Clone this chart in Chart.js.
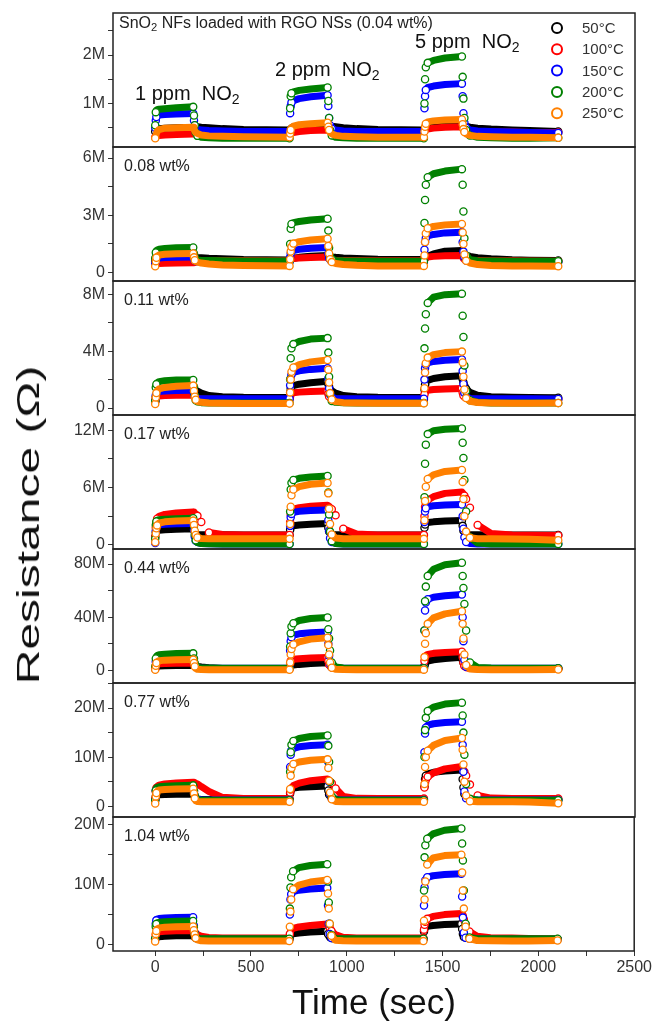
<!DOCTYPE html>
<html>
<head>
<meta charset="utf-8">
<script src="https://cdn.jsdelivr.net/npm/chart.js@4.4.1/dist/chart.umd.min.js"></script>
<style>
  body { margin: 0; background: #fff; }
  #page { position: relative; width: 654px; height: 1021px; overflow: hidden; font-family: 'Liberation Sans', Arial, sans-serif; }
  #page canvas { position: absolute; left: 0; }
  .txt { position: absolute; white-space: nowrap; color: #111; z-index: 5; }
  .txt sub { font-size: 0.7em; vertical-align: -0.3em; line-height: 0; }
</style>
</head>
<body>
<div id="page">
  <div class="txt" style="left:119px;top:15px;font-size:16px;line-height:16px;color:#222">SnO<sub>2</sub> NFs loaded with RGO NSs (0.04 wt%)</div>
  <div class="txt" style="left:135px;top:83px;font-size:20px;line-height:20px">1 ppm&nbsp; NO<sub>2</sub></div>
  <div class="txt" style="left:275px;top:59px;font-size:20px;line-height:20px">2 ppm&nbsp; NO<sub>2</sub></div>
  <div class="txt" style="left:415px;top:31px;font-size:20px;line-height:20px">5 ppm&nbsp; NO<sub>2</sub></div>
  <div class="txt" style="left:28px;top:525px;font-size:32px;line-height:32px;transform:translate(-50%,-50%) rotate(-90deg) scaleX(1.5)">Resistance (Ω)</div>
  <div class="txt" style="left:374px;top:984px;font-size:35px;line-height:35px;transform:translateX(-50%)">Time (sec)</div>
</div>
<script>
// time axis (s) shared by every series
const T = [0, 3, 6, 10, 20, 50, 110, 198, 202, 206, 211, 220, 240, 280, 350, 460,
  700, 703, 706, 710, 720, 750, 810, 898, 902, 906, 911, 920, 940, 980, 1050, 1160,
  1400, 1403, 1406, 1410, 1420, 1450, 1510, 1598, 1602, 1606, 1611, 1620, 1640, 1680, 1750, 1860,
  1950, 2100];

const TEMPS = ['50°C', '100°C', '150°C', '200°C', '250°C'];
const COLORS = ['#000000', '#ff0000', '#0000ff', '#008000', '#ff8000'];
const PANEL_LABELS = [null, '0.08 wt%', '0.11 wt%', '0.17 wt%', '0.44 wt%', '0.77 wt%', '1.04 wt%'];

// y ranges and major tick steps, in MOhm
const Y_MIN = [0.1, -0.44, -0.49, -0.42, -9.5, -2.2, -1.04];
const Y_MAX = [2.87, 6.58, 8.94, 13.6, 91.3, 25.1, 21.2];
const Y_MAJOR = [1, 3, 4, 6, 40, 10, 10];
const X_MIN = -220, X_MAX = 2500;
const X_TICKS = [0, 250, 500, 750, 1000, 1250, 1500, 1750, 2000, 2250, 2500];
const X_LABELED = [0, 500, 1000, 1500, 2000, 2500];

// resistance (MOhm), one value per entry of T
const r004_50 = [0.42,0.44,0.46,0.47,0.48,0.49,0.50,0.51,0.51,0.52,0.52,0.52,0.51,0.50,0.48,0.46,
  0.45,0.47,0.49,0.50,0.52,0.53,0.54,0.55,0.55,0.55,0.54,0.53,0.52,0.50,0.48,0.46,
  0.45,0.48,0.51,0.53,0.55,0.57,0.59,0.60,0.59,0.57,0.55,0.53,0.51,0.49,0.47,0.45, 0.44,0.42];
const r004_100 = [0.30,0.31,0.32,0.33,0.34,0.35,0.36,0.37,0.38,0.39,0.40,0.41,0.42,0.42,0.42,0.42,
  0.41,0.38,0.38,0.39,0.40,0.42,0.44,0.45,0.44,0.43,0.42,0.42,0.42,0.42,0.42,0.42,
  0.41,0.43,0.45,0.46,0.47,0.49,0.51,0.52,0.49,0.46,0.44,0.43,0.42,0.42,0.41,0.41, 0.40,0.40];
const r004_150 = [0.50,0.65,0.72,0.75,0.76,0.77,0.78,0.79,0.65,0.55,0.50,0.47,0.45,0.44,0.43,0.42,
  0.42,0.80,0.95,1.02,1.06,1.10,1.14,1.17,0.95,0.70,0.55,0.48,0.45,0.43,0.42,0.42,
  0.42,0.90,1.15,1.28,1.33,1.36,1.39,1.41,1.15,0.80,0.60,0.50,0.45,0.43,0.42,0.41, 0.40,0.39];
const r004_200 = [0.55,0.82,0.86,0.87,0.88,0.89,0.91,0.93,0.75,0.55,0.40,0.33,0.30,0.29,0.28,0.28,
  0.28,0.90,1.15,1.21,1.24,1.27,1.30,1.33,1.05,0.70,0.45,0.34,0.30,0.29,0.28,0.28,
  0.28,1.00,1.50,1.75,1.84,1.89,1.94,1.97,1.55,1.10,0.70,0.45,0.34,0.30,0.29,0.28, 0.28,0.29];
const r004_250 = [0.28,0.33,0.38,0.42,0.46,0.49,0.50,0.51,0.47,0.43,0.40,0.38,0.35,0.33,0.32,0.31,
  0.30,0.38,0.45,0.50,0.53,0.56,0.58,0.60,0.52,0.45,0.40,0.37,0.34,0.32,0.31,0.30,
  0.30,0.42,0.52,0.58,0.62,0.64,0.66,0.67,0.57,0.47,0.41,0.37,0.34,0.32,0.31,0.30, 0.30,0.29];

const r008_50 = [0.60,0.65,0.70,0.72,0.74,0.76,0.78,0.80,0.80,0.80,0.80,0.79,0.78,0.75,0.72,0.68,
  0.66,0.68,0.70,0.72,0.75,0.80,0.86,0.90,0.88,0.86,0.84,0.82,0.80,0.77,0.74,0.70,
  0.68,0.72,0.76,0.80,0.86,0.98,1.12,1.16,1.10,1.04,0.98,0.92,0.85,0.78,0.72,0.67, 0.65,0.63];
const r008_100 = [0.40,0.44,0.46,0.47,0.48,0.49,0.50,0.51,0.55,0.58,0.60,0.62,0.63,0.64,0.64,0.63,
  0.62,0.66,0.70,0.72,0.74,0.76,0.79,0.82,0.76,0.70,0.66,0.64,0.63,0.63,0.63,0.62,
  0.62,0.70,0.76,0.79,0.82,0.85,0.88,0.90,0.80,0.72,0.67,0.65,0.64,0.63,0.62,0.62, 0.61,0.60];
const r008_150 = [0.45,0.65,0.72,0.75,0.77,0.79,0.80,0.82,0.68,0.60,0.57,0.56,0.55,0.55,0.55,0.55,
  0.55,0.80,1.00,1.10,1.16,1.22,1.28,1.32,1.00,0.75,0.62,0.58,0.56,0.55,0.55,0.55,
  0.55,1.20,1.60,1.80,1.92,2.00,2.08,2.12,1.60,1.10,0.80,0.64,0.58,0.56,0.55,0.55, 0.55,0.55];
const r008_200 = [0.75,1.05,1.15,1.18,1.22,1.26,1.30,1.32,1.00,0.80,0.70,0.66,0.64,0.63,0.62,0.61,
  0.61,1.50,2.30,2.55,2.62,2.68,2.76,2.82,2.20,1.30,0.85,0.70,0.64,0.62,0.61,0.60,
  0.60,2.60,3.80,4.60,5.00,5.18,5.32,5.42,4.60,3.20,1.80,0.90,0.68,0.62,0.61,0.60, 0.60,0.60];
const r008_250 = [0.33,0.60,0.78,0.86,0.92,0.96,0.99,1.00,0.80,0.65,0.58,0.55,0.50,0.45,0.40,0.37,
  0.35,0.70,1.10,1.35,1.52,1.62,1.71,1.77,1.40,1.00,0.70,0.55,0.48,0.42,0.38,0.35,
  0.35,0.90,1.60,2.05,2.32,2.42,2.50,2.55,2.10,1.50,0.95,0.62,0.50,0.42,0.37,0.35, 0.34,0.33];

const r011_50 = [0.50,0.80,0.95,1.02,1.08,1.15,1.22,1.28,1.30,1.28,1.25,1.20,1.05,0.88,0.80,0.76,
  0.75,1.10,1.35,1.48,1.58,1.68,1.78,1.88,1.70,1.50,1.35,1.22,1.05,0.88,0.80,0.76,
  0.75,1.30,1.65,1.82,1.95,2.08,2.20,2.28,2.05,1.80,1.55,1.35,1.10,0.90,0.80,0.76, 0.74,0.72];
const r011_100 = [0.45,0.70,0.78,0.82,0.85,0.88,0.90,0.92,0.80,0.72,0.68,0.65,0.62,0.61,0.60,0.60,
  0.60,0.85,0.98,1.04,1.08,1.12,1.16,1.20,1.00,0.82,0.72,0.66,0.62,0.61,0.60,0.60,
  0.60,0.95,1.12,1.20,1.25,1.30,1.34,1.38,1.10,0.88,0.74,0.67,0.63,0.61,0.60,0.60, 0.60,0.60];
const r011_150 = [0.50,0.90,1.05,1.12,1.17,1.20,1.23,1.25,1.00,0.82,0.72,0.68,0.66,0.65,0.65,0.65,
  0.65,1.60,2.10,2.35,2.50,2.62,2.72,2.80,2.10,1.40,0.95,0.75,0.68,0.66,0.65,0.65,
  0.65,2.00,2.80,3.05,3.18,3.28,3.36,3.42,2.60,1.70,1.05,0.78,0.68,0.66,0.65,0.65, 0.65,0.64];
const r011_200 = [0.50,1.45,1.68,1.78,1.86,1.92,1.97,1.98,1.50,0.90,0.55,0.42,0.38,0.36,0.35,0.35,
  0.35,2.00,3.50,4.20,4.50,4.68,4.85,4.92,3.90,2.20,1.00,0.50,0.40,0.37,0.36,0.35,
  0.35,4.20,5.60,6.60,7.40,7.80,7.98,8.05,6.50,5.00,3.00,1.20,0.55,0.40,0.36,0.35, 0.35,0.35];
const r011_250 = [0.28,0.75,1.05,1.22,1.35,1.45,1.53,1.58,1.20,0.80,0.58,0.46,0.40,0.36,0.34,0.32,
  0.32,1.10,2.00,2.55,2.85,3.05,3.25,3.38,2.70,1.80,1.05,0.60,0.45,0.38,0.35,0.33,
  0.33,1.40,2.50,3.15,3.55,3.75,3.90,3.97,3.20,2.20,1.30,0.70,0.48,0.39,0.36,0.34, 0.34,0.35];

const r017_50 = [0.90,1.30,1.45,1.50,1.55,1.60,1.65,1.70,1.45,1.25,1.15,1.10,1.08,1.07,1.06,1.05,
  1.05,1.60,1.85,1.95,2.02,2.10,2.18,2.25,1.80,1.40,1.20,1.12,1.08,1.06,1.05,1.05,
  1.05,1.80,2.15,2.28,2.35,2.42,2.50,2.56,2.00,1.50,1.25,1.13,1.08,1.06,1.05,1.05, 1.04,1.04];
const r017_100 = [0.80,1.80,2.40,2.75,3.00,3.20,3.35,3.45,3.40,3.35,3.25,3.05,2.40,1.30,1.10,1.05,
  1.05,2.40,3.20,3.55,3.75,3.90,4.05,4.15,4.10,4.05,3.95,3.75,3.10,1.70,1.15,1.05,
  1.05,3.00,4.00,4.40,4.70,5.05,5.40,5.55,5.45,5.35,5.15,4.80,3.90,2.10,1.20,1.05, 1.02,1.00];
const r017_150 = [0.20,1.50,1.90,2.05,2.12,2.18,2.22,2.25,1.60,0.90,0.45,0.25,0.15,0.12,0.11,0.10,
  0.10,2.00,2.90,3.25,3.42,3.52,3.60,3.66,2.60,1.50,0.70,0.30,0.15,0.11,0.10,0.10,
  0.10,2.40,3.50,3.85,4.00,4.10,4.18,4.24,3.00,1.70,0.80,0.32,0.15,0.11,0.10,0.10, 0.10,0.10];
const r017_200 = [0.65,2.10,2.45,2.58,2.65,2.70,2.75,2.80,2.00,1.10,0.50,0.25,0.15,0.12,0.11,0.10,
  0.10,3.50,5.80,6.50,6.80,6.98,7.12,7.22,5.50,3.20,1.40,0.40,0.15,0.11,0.10,0.10,
  0.10,5.00,8.50,10.50,11.60,11.95,12.10,12.20,10.70,9.10,6.80,3.50,0.80,0.20,0.11,0.10, 0.10,0.10];
const r017_250 = [0.28,1.20,1.75,2.05,2.30,2.42,2.50,2.55,2.10,1.50,1.05,0.78,0.68,0.65,0.64,0.64,
  0.64,2.20,4.00,5.20,5.80,6.10,6.35,6.48,5.40,3.80,2.20,1.10,0.72,0.65,0.64,0.64,
  0.64,2.60,4.60,6.10,6.90,7.35,7.70,7.85,6.60,4.80,3.00,1.40,0.75,0.66,0.64,0.63, 0.60,0.50];

const r044_50 = [1.2,2.5,2.9,3.1,3.3,3.5,3.7,3.9,3.8,3.6,3.3,3.0,2.5,2.0,1.5,1.2,
  1.2,2.5,3.2,3.6,4.0,4.5,5.2,5.8,5.0,4.0,3.2,2.5,1.9,1.5,1.2,1.2,
  1.2,3.5,5.0,6.0,7.0,8.0,9.0,9.8,8.0,6.0,4.0,2.8,2.0,1.5,1.2,1.2, 1.2,1.2];
const r044_100 = [1.2,3.5,4.2,4.6,4.9,5.1,5.3,5.5,4.0,2.8,2.0,1.6,1.4,1.3,1.2,1.2,
  1.2,5.0,7.0,7.8,8.3,8.8,9.3,9.7,7.0,4.5,2.8,1.8,1.4,1.3,1.2,1.2,
  1.2,7.0,10.0,11.2,12.0,12.8,13.5,14.0,10.0,6.0,3.2,1.9,1.4,1.3,1.2,1.2, 1.2,1.2];
const r044_150 = [1.6,6.5,7.8,8.4,8.8,9.1,9.4,9.6,6.5,4.0,2.4,1.8,1.6,1.6,1.6,1.6,
  1.6,15.0,22.0,25.0,26.5,27.5,28.3,28.8,20.0,11.0,5.0,2.3,1.7,1.6,1.6,1.6,
  1.6,30.0,45.0,51.0,53.5,55.0,56.2,57.0,40.0,22.0,8.0,2.8,1.7,1.6,1.6,1.6, 1.6,1.6];
const r044_200 = [3.0,9.0,10.5,11.2,11.8,12.2,12.6,12.8,9.0,5.5,3.2,2.2,1.8,1.7,1.6,1.6,
  1.6,18.0,28.0,33.0,35.5,37.5,39.0,39.8,31.0,24.0,15.0,6.0,2.5,1.8,1.6,1.6,
  1.6,30.0,52.0,63.0,71.0,76.0,79.5,81.0,71.0,62.0,50.0,30.0,6.0,2.2,1.7,1.6, 1.6,1.6];
const r044_250 = [0.5,3.5,5.5,6.5,7.3,7.7,7.9,8.1,5.5,3.0,1.5,0.8,0.6,0.55,0.5,0.5,
  0.5,6.0,12.0,16.0,19.5,21.5,23.5,24.5,19.0,12.0,6.0,2.0,0.8,0.6,0.55,0.55,
  0.55,10.0,20.0,28.0,35.0,39.5,42.5,44.5,35.0,24.0,12.0,4.0,1.0,0.6,0.55,0.55, 0.55,0.6];

const r077_50 = [1.35,2.00,2.15,2.25,2.32,2.38,2.43,2.48,2.10,1.80,1.55,1.45,1.38,1.35,1.35,1.35,
  1.35,2.60,3.20,3.50,3.70,3.85,3.98,4.10,3.20,2.40,1.90,1.60,1.45,1.38,1.35,1.35,
  1.35,4.00,5.50,6.20,6.60,6.90,7.15,7.35,5.50,3.80,2.50,1.75,1.45,1.38,1.35,1.35, 1.35,1.35];
const r077_100 = [1.50,3.00,3.70,4.00,4.30,4.55,4.75,4.90,4.85,4.80,4.70,4.55,4.00,3.00,1.80,1.55,
  1.55,2.80,3.40,3.80,4.20,4.70,5.20,5.55,5.45,5.30,5.10,4.70,3.60,2.00,1.60,1.55,
  1.55,3.80,4.80,5.40,6.00,6.80,7.60,8.10,7.80,7.50,7.00,6.20,4.40,2.20,1.65,1.55, 1.55,1.55];
const r077_150 = [1.25,3.20,3.60,3.75,3.85,3.92,3.98,4.02,3.00,2.20,1.65,1.40,1.30,1.25,1.25,1.25,
  1.25,8.00,10.50,11.40,11.80,12.10,12.35,12.50,9.00,5.00,2.50,1.50,1.30,1.25,1.25,1.25,
  1.25,11.00,14.80,16.00,16.50,16.80,17.05,17.20,12.50,7.00,3.00,1.60,1.32,1.25,1.25,1.25, 1.25,1.25];
const r077_200 = [1.20,3.20,3.70,3.85,3.95,4.05,4.15,4.25,3.20,2.20,1.55,1.28,1.22,1.20,1.20,1.20,
  1.20,7.00,11.00,12.50,13.30,13.80,14.20,14.40,12.30,9.00,5.00,2.00,1.30,1.22,1.20,1.20,
  1.20,10.00,15.50,18.00,19.40,20.20,20.80,21.10,18.50,15.00,10.50,4.50,1.50,1.25,1.20,1.20, 1.20,1.20];
const r077_250 = [0.55,2.00,2.70,3.05,3.28,3.40,3.50,3.55,2.60,1.60,1.10,0.95,0.90,0.90,0.90,0.90,
  0.90,3.50,6.20,7.80,8.60,9.00,9.35,9.55,7.80,5.20,2.80,1.40,0.95,0.90,0.90,0.90,
  0.90,4.50,8.00,10.00,11.30,12.40,13.40,13.90,11.50,8.50,5.00,2.20,1.00,0.92,0.90,0.90, 0.88,0.60];

const r104_50 = [0.90,1.10,1.20,1.27,1.33,1.40,1.48,1.55,1.30,1.10,1.00,0.95,0.92,0.90,0.90,0.90,
  0.90,1.40,1.60,1.72,1.82,1.95,2.10,2.25,1.80,1.40,1.15,1.00,0.93,0.90,0.90,0.90,
  0.90,2.20,2.70,2.90,3.05,3.20,3.35,3.45,2.60,1.80,1.30,1.05,0.95,0.90,0.90,0.90, 0.90,0.90];
const r104_100 = [1.00,1.60,1.90,2.05,2.15,2.25,2.32,2.38,2.30,2.20,2.00,1.70,1.40,1.20,1.12,1.10,
  1.10,1.80,2.20,2.45,2.70,2.95,3.20,3.45,3.30,3.10,2.80,2.30,1.70,1.25,1.12,1.10,
  1.10,2.50,3.30,3.80,4.30,4.70,5.00,5.20,5.00,4.70,4.20,3.40,2.20,1.40,1.15,1.10, 1.05,0.95];
const r104_150 = [0.90,3.50,4.05,4.25,4.35,4.45,4.52,4.58,3.20,2.00,1.30,1.00,0.92,0.90,0.90,0.90,
  0.90,5.00,7.50,8.40,8.80,9.05,9.25,9.40,6.50,3.50,1.80,1.10,0.92,0.90,0.90,0.90,
  0.90,6.50,9.50,10.70,11.20,11.45,11.65,11.80,8.00,4.50,2.00,1.15,0.93,0.90,0.90,0.90, 0.90,0.90];
const r104_200 = [1.00,3.00,3.45,3.62,3.72,3.80,3.88,3.95,2.90,1.90,1.30,1.05,1.00,1.00,1.00,1.00,
  1.00,6.00,9.50,11.20,12.20,12.80,13.15,13.35,10.50,7.00,3.50,1.60,1.05,1.00,1.00,1.00,
  1.00,9.00,14.50,16.50,17.60,18.40,19.00,19.30,16.80,14.00,9.00,3.50,1.20,1.00,1.00,1.00, 1.00,1.00];
const r104_250 = [0.55,1.80,2.30,2.60,2.80,2.90,2.98,3.02,2.40,1.70,1.10,0.80,0.65,0.60,0.60,0.60,
  0.60,3.00,5.50,7.50,9.20,9.90,10.40,10.75,8.50,6.00,3.50,1.50,0.75,0.65,0.62,0.60,
  0.60,4.00,7.50,10.50,13.30,14.40,14.80,14.95,12.00,9.00,6.00,3.00,1.00,0.70,0.65,0.62, 0.62,0.70];

const PANELS = [
  [r004_50, r004_100, r004_150, r004_200, r004_250],
  [r008_50, r008_100, r008_150, r008_200, r008_250],
  [r011_50, r011_100, r011_150, r011_200, r011_250],
  [r017_50, r017_100, r017_150, r017_200, r017_250],
  [r044_50, r044_100, r044_150, r044_200, r044_250],
  [r077_50, r077_100, r077_150, r077_200, r077_250],
  [r104_50, r104_100, r104_150, r104_200, r104_250],
];

// page layout
const PLOT_LEFT = 113, PLOT_RIGHT = 635, PAGE_W = 654;
const PANEL_TOP = [13, 147, 281, 415, 549, 683, 817];
const PANEL_H = 134;
const PAD = 14, YW = 60, XAXH = 40;
const FONT = "'Liberation Sans', Arial, sans-serif";

Chart.defaults.font.family = FONT;
Chart.defaults.color = '#333';

const isMult = (v, m) => Math.abs(v / m - Math.round(v / m)) < 1e-6;

// major + minor (half step) tick values inside [lo, hi]
function yTickValues(i) {
  const step = Y_MAJOR[i] / 2, out = [];
  for (let n = Math.ceil(Y_MIN[i] / step); n * step <= Y_MAX[i]; n++) out.push(n * step);
  return out;
}

// which segments are too steep to draw as a band, and which points show as open circles
function steepFlags(vals, i) {
  const pxV = PANEL_H / (Y_MAX[i] - Y_MIN[i]);
  const pxT = (PLOT_RIGHT - PLOT_LEFT) / (X_MAX - X_MIN);
  const seg = [];
  for (let j = 0; j < vals.length - 1; j++) {
    const dy = Math.abs(vals[j + 1] - vals[j]) * pxV;
    const dx = (T[j + 1] - T[j]) * pxT;
    seg.push(dy > Math.max(2.5, 1.3 * dx));
  }
  const dot = vals.map((v, j) => j === 0 || j === vals.length - 1 || seg[j - 1] || seg[j]);
  return { seg, dot };
}

const framePlugin = {
  id: 'frame',
  afterDraw(chart, args, opts) {
    const { ctx, chartArea: a } = chart;
    ctx.save();
    ctx.strokeStyle = '#222';
    ctx.lineWidth = 1.5;
    ctx.strokeRect(a.left, a.top, a.right - a.left, a.bottom - a.top);
    if (opts.label) {
      ctx.font = `16px ${FONT}`;
      ctx.fillStyle = '#222';
      ctx.fillText(opts.label, a.left + 11, a.top + 23.5);
    }
    if (opts.legend) {
      ctx.font = `15px ${FONT}`;
      TEMPS.forEach((t, k) => {
        const y = a.top + 20 + k * 21.3;
        ctx.beginPath();
        ctx.arc(557, y - 5, 5, 0, Math.PI * 2);
        ctx.fillStyle = '#fff';
        ctx.fill();
        ctx.strokeStyle = COLORS[k];
        ctx.lineWidth = 2;
        ctx.stroke();
        ctx.fillStyle = '#333';
        ctx.fillText(t, 582, y);
      });
    }
    ctx.restore();
  }
};

const page = document.getElementById('page');

PANELS.forEach((series, i) => {
  const last = i === PANELS.length - 1;
  const canvas = document.createElement('canvas');
  canvas.width = PAGE_W;
  canvas.height = PAD + PANEL_H + (last ? XAXH : PAD);
  canvas.style.top = (PANEL_TOP[i] - PAD) + 'px';
  page.appendChild(canvas);

  const datasets = series.map((vals, k) => {
    const f = steepFlags(vals, i);
    return {
      label: TEMPS[k],
      data: vals.map((v, j) => ({ x: T[j], y: v })),
      borderColor: COLORS[k],
      borderWidth: 7,
      borderCapStyle: 'round',
      borderJoinStyle: 'round',
      segment: { borderColor: c => f.seg[c.p0DataIndex] ? 'rgba(0,0,0,0)' : COLORS[k] },
      pointRadius: f.dot.map(d => d ? 3.6 : 0),
      pointHoverRadius: 0,
      pointBackgroundColor: '#fff',
      pointBorderColor: COLORS[k],
      pointBorderWidth: 1.3,
      fill: false,
      tension: 0,
      order: 4 - k,
    };
  });

  const major = Y_MAJOR[i];
  new Chart(canvas, {
    type: 'line',
    data: { datasets },
    options: {
      responsive: false,
      animation: false,
      events: [],
      layout: { padding: { left: PLOT_LEFT - YW, right: PAGE_W - PLOT_RIGHT, top: PAD, bottom: last ? 0 : PAD } },
      plugins: {
        legend: { display: false },
        tooltip: { enabled: false },
        frame: { label: PANEL_LABELS[i], legend: i === 0 },
      },
      scales: {
        x: {
          type: 'linear',
          min: X_MIN, max: X_MAX,
          display: last,
          afterFit: s => { s.height = last ? XAXH : 0; },
          afterBuildTicks: s => { s.ticks = X_TICKS.map(v => ({ value: v })); },
          ticks: {
            autoSkip: false,
            maxRotation: 0,
            padding: 2,
            font: { size: 16 },
            color: '#333',
            callback: v => X_LABELED.includes(v) ? String(v) : '',
          },
          grid: { drawOnChartArea: false, drawTicks: true, tickLength: 5, color: '#333' },
          border: { display: false },
        },
        y: {
          type: 'linear',
          min: Y_MIN[i], max: Y_MAX[i],
          afterFit: s => { s.width = YW; },
          afterBuildTicks: s => { s.ticks = yTickValues(i).map(v => ({ value: v })); },
          ticks: {
            autoSkip: false,
            padding: 3,
            font: { size: 16 },
            color: '#333',
            callback: v => {
              if (!isMult(v, major)) return '';
              return Math.abs(v) < 1e-9 ? '0' : Math.round(v) + 'M';
            },
          },
          grid: { drawOnChartArea: false, drawTicks: true, tickLength: 5, color: '#333' },
          border: { display: false },
        },
      },
    },
    plugins: [framePlugin],
  });
});
</script>
</body>
</html>
